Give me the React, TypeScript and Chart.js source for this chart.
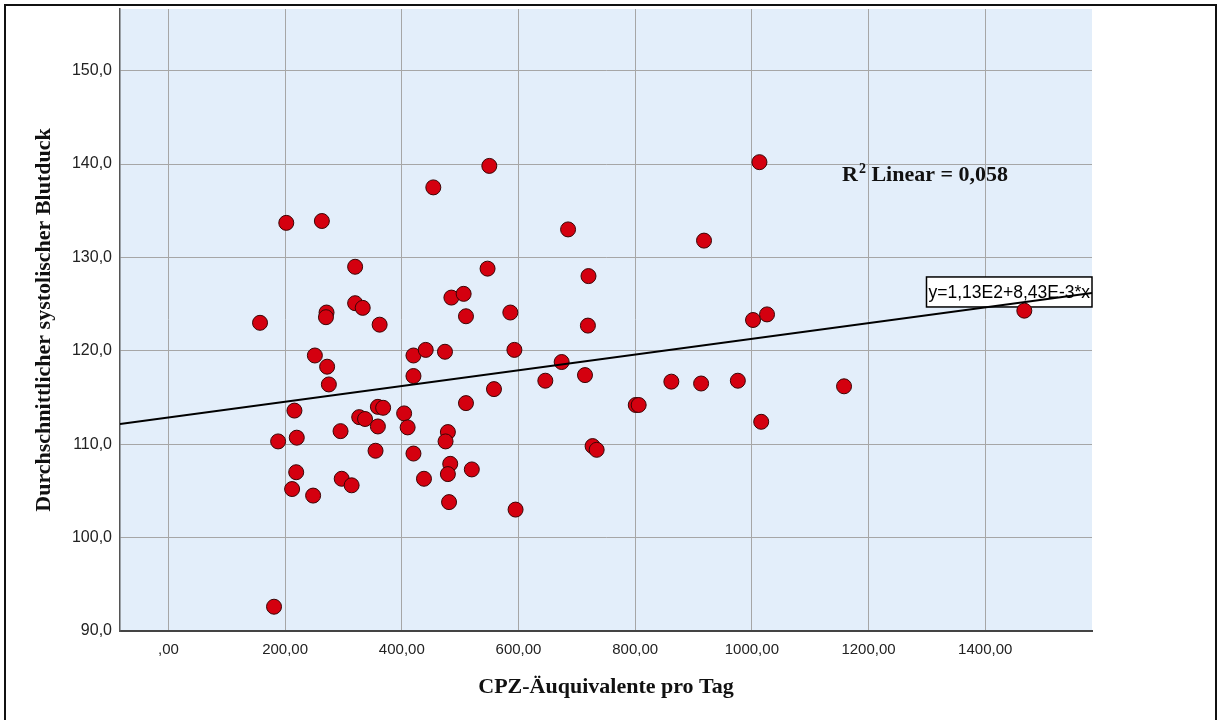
import React, { useEffect, useRef } from "react";
import { Chart, registerables } from "chart.js";

Chart.register(...registerables);

// CPZ equivalents per day (x) and mean systolic blood pressure (y) per patient
const cpzPerDay = [
  157, 202, 263, 320, 320, 333, 271, 270, 362, 251,
  272, 275, 216, 359, 368, 327, 337, 359, 295, 220,
  188, 355, 219, 212, 297, 314, 248, 181, 404, 410,
  420, 438, 479, 475, 483, 479, 520, 481, 595, 420,
  441, 474, 593, 420, 550, 454, 685, 547, 720, 485,
  506, 510, 586, 719, 674, 646, 714, 558, 510, 727,
  734, 801, 806, 1013, 918, 1002, 1026, 862, 913, 976,
  1016, 1158, 1467,
];
const systolicMean = [
  123.0, 133.7, 133.9, 129.0, 125.1, 124.6, 124.1, 123.6, 122.8, 119.5,
  118.3, 116.4, 113.6, 114.0, 113.9, 112.9, 112.7, 111.9, 111.4, 110.7,
  110.3, 109.3, 107.0, 105.2, 106.3, 105.6, 104.5, 92.6, 113.3, 111.8,
  109.0, 106.3, 111.3, 110.3, 107.9, 106.8, 107.3, 103.8, 103.0, 119.5,
  120.1, 119.9, 120.1, 117.3, 139.8, 137.5, 133.0, 128.8, 128.0, 125.7,
  126.1, 123.7, 124.1, 122.7, 118.8, 116.8, 117.4, 115.9, 114.4, 109.8,
  109.4, 114.2, 114.2, 140.2, 131.8, 123.3, 123.9, 116.7, 116.5, 116.8,
  112.4, 116.2, 124.3,
];

const xTicks = [0, 200, 400, 600, 800, 1000, 1200, 1400];
const yTicks = [90, 100, 110, 120, 130, 140, 150];
const xBounds = [-83, 1583];
const yBounds = [90, 156.6];

// linear fit y = a + b*x
const fitIntercept = 112.85;
const fitSlope = 0.00843;
const fitEquation = "y=1,13E2+8,43E-3*x";
const rSquaredText = "0,058";

const xTitle = "CPZ-Äuquivalente pro Tag";
const yTitle = "Durchschnittlicher systolischer Blutduck";

const SANS = "'Liberation Sans', Arial, sans-serif";
const SERIF = "'Liberation Serif', 'Times New Roman', serif";

const fmtX = (v: number) => {
  const s = v.toFixed(2).replace(".", ",");
  return v === 0 ? s.replace(/^0/, "") : s;
};
const fmtY = (v: number) => v.toFixed(1).replace(".", ",");

const decorations = {
  id: "decorations",
  beforeDraw(chart: any) {
    const { ctx, chartArea: a } = chart;
    ctx.save();
    ctx.fillStyle = "#ffffff";
    ctx.fillRect(0, 0, chart.width, chart.height);
    ctx.fillStyle = "#e3eefa";
    ctx.fillRect(a.left, a.top, a.right - a.left, a.bottom - a.top);
    ctx.strokeStyle = "#111111";
    ctx.lineWidth = 2;
    ctx.strokeRect(5, 5, chart.width - 7, chart.height + 20);
    ctx.restore();
  },
  beforeDatasetsDraw(chart: any) {
    const { ctx, chartArea: a, scales } = chart;
    const xEnd = scales.x.max;
    const lineY = scales.y.getPixelForValue(fitIntercept + fitSlope * xEnd);
    ctx.save();
    ctx.font = `17.5px ${SANS}`;
    const w = ctx.measureText(fitEquation).width + 4;
    const h = 30;
    const left = a.right - w;
    const top = lineY - 16;
    ctx.fillStyle = "#ffffff";
    ctx.fillRect(left, top, w, h);
    ctx.strokeStyle = "#000000";
    ctx.lineWidth = 1.5;
    ctx.strokeRect(left, top, w, h);
    ctx.fillStyle = "#000000";
    ctx.textBaseline = "middle";
    ctx.fillText(fitEquation, left + 2, top + h / 2 + 1);
    ctx.restore();
  },
  afterDatasetsDraw(chart: any) {
    const { ctx, chartArea: a } = chart;
    ctx.save();
    ctx.fillStyle = "#111111";
    ctx.textBaseline = "alphabetic";
    let x = a.left + 722;
    const base = a.top + 172;
    ctx.font = `bold 22px ${SERIF}`;
    ctx.fillText("R", x, base);
    x += ctx.measureText("R").width + 1;
    ctx.font = `bold 14px ${SERIF}`;
    ctx.fillText("2", x, base - 8);
    x += ctx.measureText("2").width;
    ctx.font = `bold 22px ${SERIF}`;
    ctx.fillText(` Linear = ${rSquaredText}`, x, base);
    ctx.restore();
  },
};

export default function App() {
  const canvasRef = useRef<HTMLCanvasElement | null>(null);

  useEffect(() => {
    const canvas = canvasRef.current;
    if (!canvas) return;

    const points = cpzPerDay.map((x, i) => ({ x, y: systolicMean[i] }));
    const fitLine = xBounds.map((x) => ({ x, y: fitIntercept + fitSlope * x }));

    const chart = new Chart(canvas, {
      type: "scatter",
      data: {
        datasets: [
          {
            type: "line",
            data: fitLine,
            borderColor: "#000000",
            borderWidth: 2,
            pointRadius: 0,
            fill: false,
            order: 0,
          } as any,
          {
            type: "scatter",
            data: points,
            backgroundColor: "#d4000f",
            borderColor: "#3a0505",
            borderWidth: 1,
            pointRadius: 7.5,
            order: 1,
          },
        ],
      },
      options: {
        responsive: false,
        animation: false,
        events: [],
        layout: { padding: { left: 5, top: 9, right: 126, bottom: 0 } },
        plugins: { legend: { display: false }, tooltip: { enabled: false } },
        scales: {
          x: {
            type: "linear",
            min: xBounds[0],
            max: xBounds[1],
            afterBuildTicks: (s: any) => {
              s.ticks = xTicks.map((value) => ({ value }));
            },
            afterFit: (s: any) => {
              s.height = 89;
              s.paddingLeft = 0;
              s.paddingRight = 0;
            },
            ticks: {
              callback: (v: any) => fmtX(Number(v)),
              color: "#222222",
              font: { family: SANS, size: 15 },
              padding: 10,
              maxRotation: 0,
              autoSkip: false,
            },
            grid: { color: "#a6a6a6", lineWidth: 1, drawTicks: false },
            border: { color: "#444444", width: 2 },
            title: {
              display: true,
              text: xTitle,
              color: "#111111",
              font: { family: SERIF, size: 22, weight: "bold" },
              padding: { top: 0, bottom: 19 },
            },
          },
          y: {
            type: "linear",
            min: yBounds[0],
            max: yBounds[1],
            afterBuildTicks: (s: any) => {
              s.ticks = yTicks.map((value) => ({ value }));
            },
            afterFit: (s: any) => {
              s.width = 115;
              s.paddingTop = 0;
              s.paddingBottom = 0;
            },
            ticks: {
              callback: (v: any) => fmtY(Number(v)),
              color: "#222222",
              font: { family: SANS, size: 16 },
              padding: 8,
              autoSkip: false,
            },
            grid: { color: "#a6a6a6", lineWidth: 1, drawTicks: false },
            border: { color: "#555555", width: 1.5 },
            title: {
              display: true,
              text: yTitle,
              color: "#111111",
              font: { family: SERIF, size: 22, weight: "bold" },
              padding: { top: 26, bottom: 0 },
            },
          },
        },
      },
      plugins: [decorations],
    });

    return () => chart.destroy();
  }, []);

  return (
    <div style={{ position: "absolute", left: 0, top: 0, width: 1218, height: 720, background: "#fff" }}>
      <canvas ref={canvasRef} width={1218} height={720} style={{ display: "block" }} />
    </div>
  );
}
